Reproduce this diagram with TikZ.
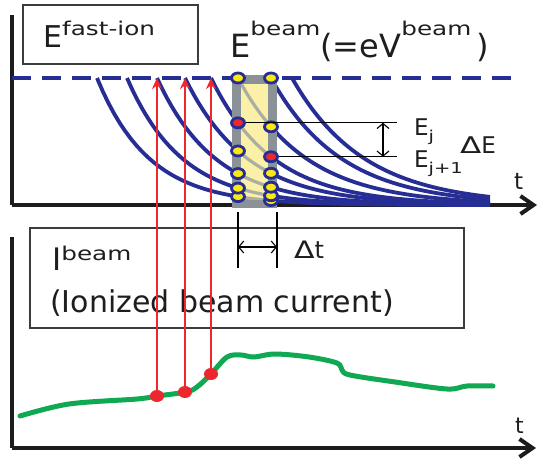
\documentclass[tikz,border=0pt]{standalone}
\usepackage{fontspec}
\setmainfont{DejaVu Sans}
\usepackage{graphicx}
\usetikzlibrary{arrows.meta, shapes.geometric, positioning, calc}

\definecolor{beamblue}{RGB}{38,46,150}
\definecolor{axisblack}{RGB}{28,28,28}
\definecolor{boxgray}{RGB}{60,60,60}
\definecolor{textgray}{RGB}{30,30,30}
\definecolor{bandgray}{RGB}{138,146,152}
\definecolor{bandyellow}{RGB}{250,240,168}
\definecolor{stripegray}{RGB}{172,174,162}
\definecolor{dotyellow}{RGB}{250,232,20}
\definecolor{ionred}{RGB}{236,40,46}
\definecolor{currgreen}{RGB}{16,168,82}

% raised or lowered index, set wide
\newcommand\supx[3]{\raisebox{#1}{\scalebox{1.3}[1]{\fontsize{#2}{#2}\selectfont #3}}}
% start time / decay length of each slowing-down curve
\def\curvelist{97/52,127/55,157/58,185/62,211/62,238/68,271/70,292/72}

\begin{document}
\begin{tikzpicture}[
    x=1pt, y=-1pt,
    axis/.style    = {draw=axisblack, line width=4pt},
    axisarr/.style = {axis, -{Straight Barb[length=13pt,width=18pt]}},
    panel/.style   = {draw=boxgray, line width=1.6pt, inner sep=0pt},
    lbl/.style     = {inner sep=0pt, anchor=base west, text=textgray},
    decay/.style   = {draw=beamblue, line width=3.8pt},
    faded/.style   = {draw=stripegray, line width=3.2pt},
    dot/.style     = {ellipse, draw=beamblue, line width=2.8pt, fill=dotyellow,
                      minimum width=13pt, minimum height=10pt, inner sep=0pt},
    ion/.style     = {ellipse, fill=ionred, minimum width=14pt,
                      minimum height=12pt, inner sep=0pt},
    ionarr/.style  = {draw=ionred, line width=1.6pt, -{Stealth[length=11pt,width=10pt]}},
    guide/.style   = {draw=black, line width=1.1pt},
    gap/.style     = {guide, {Straight Barb[length=5pt,width=12pt]}-{Straight Barb[length=5pt,width=12pt]}},
  ]
  \useasboundingbox[fill=white] (0,0) rectangle (539,461);

  % upper panel: fast-ion energy
  \node[panel, minimum width=175pt, minimum height=59pt] (fastbox) at (110.5,34.5) {};
  \node[lbl, font=\fontsize{30}{30}\selectfont] (efast) at (43,47) {E\supx{12pt}{19}{fast-ion}};
  \node[lbl, font=\fontsize{32}{32}\selectfont] (ebeam) at (230,57)
       {E\supx{22pt}{19}{beam}(=eV\supx{22pt}{19}{beam}\,)};
  \coordinate (o1) at (12,205);
  \draw[axis] (12,15) -- (o1);
  \draw[axisarr] (o1) -- (537,205);
  \coordinate (top) at (12,78);
  \draw[draw=beamblue, line width=4pt, dash pattern=on 19pt off 11pt] (top) -- (517,78);

  % slowing-down curves
  \foreach \a/\b in \curvelist
    \draw[decay] plot[domain=\a:490, samples=70] (\x, {205-127*exp(-(\x-\a)/\b)});

  % time window
  \draw[draw=bandgray, line width=9pt, fill=bandyellow] (236.5,79.5) rectangle (272.5,203.5);
  \begin{scope}
    \clip (241,84) rectangle (268,199);
    \foreach \a/\b in \curvelist
      \draw[faded] plot[domain=\a:300, samples=40] (\x, {205-127*exp(-(\x-\a)/\b)});
  \end{scope}
  \foreach \a/\b [count=\i] in \curvelist {
    \ifnum\i=5 \def\dotcol{ionred}\else\def\dotcol{dotyellow}\fi
    \ifnum\i<7
      \pgfmathsetmacro\yl{205-127*exp(-(238-\a)/\b)}
      \node[dot, fill=\dotcol] (L\i) at (238,\yl) {};
    \fi
    \ifnum\i<8
      \pgfmathsetmacro\yr{205-127*exp(-(271-\a)/\b)}
      \node[dot, fill=\dotcol] (R\i) at (271,\yr) {};
    \fi
  }

  % energy step
  \coordinate (eend) at (397,0);
  \coordinate (earr) at (383,0);
  \draw[guide] (L5.east) -- (L5 -| eend);
  \draw[guide] (R5.east) -- (R5 -| eend);
  \draw[gap] (L5 -| earr) -- (R5 -| earr);
  \node[lbl, font=\fontsize{23}{23}\selectfont] (ej) at (414,135) {E\supx{-6pt}{15}{j}};
  \node[lbl, font=\fontsize{23}{23}\selectfont] (ej1) at (414,167) {E\supx{-6pt}{15}{j+1}};
  \node[lbl, font=\fontsize{23}{23}\selectfont] (de) at (460,153) {\scalebox{1.35}[1]{Δ}E};
  \node[lbl, font=\fontsize{23}{23}\selectfont] (t1) at (514,189) {t};

  % lower panel: beam current
  \node[panel, minimum width=434pt, minimum height=100pt] (beambox) at (247,278) {};
  \node[lbl, font=\fontsize{31}{31}\selectfont] (ib) at (52,270) {I\supx{10pt}{19}{beam}};
  \node[lbl, font=\fontsize{30}{30}\selectfont] (ionz) at (50,312) {(Ionized beam current)};
  \coordinate (o2) at (12,448);
  \draw[axis] (12,237) -- (o2);
  \draw[axisarr] (o2) -- (536,448);
  \node[lbl, font=\fontsize{22}{22}\selectfont] (t2) at (515,433) {t};

  % window width
  \coordinate (wl) at (238,212);
  \coordinate (wr) at (277,212);
  \draw[guide] (wl) -- ++(0,56);
  \draw[guide] (wr) -- ++(0,56);
  \draw[gap] ($(wl)+(0,35)$) -- ($(wr)+(0,35)$);
  \node[lbl, font=\fontsize{24}{24}\selectfont] (dt) at (294,258) {\scalebox{1.25}[1]{Δ}t};

  % ionized beam current
  \draw[draw=currgreen, line width=5pt, line cap=round] plot[smooth, tension=0.55] coordinates {
    (20,416) (69,404) (137,399) (157,396) (186,392) (197,387) (211,374) (227,357)
    (241,355) (254,357) (275,354) (309,357) (337,363) (342,370) (350,375)
    (395,382) (447,389) (467,386) (493,386)};
  \node[ion] (P1) at (157,396) {};
  \node[ion] (P2) at (185,392) {};
  \node[ion] (P3) at (211,374) {};
  \foreach \p in {P1,P2,P3}
    \draw[ionarr] (\p.north) -- (\p |- top);
\end{tikzpicture}
\end{document}
